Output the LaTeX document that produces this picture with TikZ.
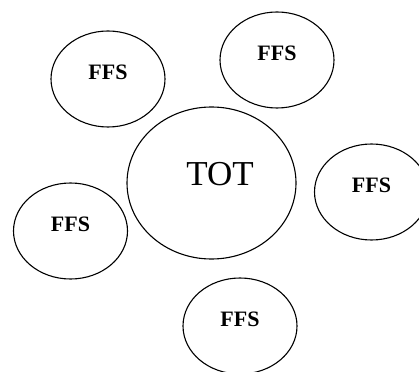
\documentclass[tikz,border=0pt]{standalone}
\usepackage{fontspec}
\setmainfont{Liberation Serif}
\usetikzlibrary{shapes.geometric}
\tikzset{
  blob/.style={ellipse, draw=black, line width=1.1pt, inner sep=0pt, minimum width=114pt, minimum height=96pt, font=\fontsize{22}{22}\selectfont\bfseries, text depth=13pt},
  bigblob/.style={ellipse, draw=black, line width=1.1pt, inner sep=0pt, minimum width=169pt, minimum height=152pt}
}

\begin{document}
\begin{tikzpicture}[x=1pt, y=-1pt]
\useasboundingbox (0,0) rectangle (419,371);
\node[bigblob, label={[font=\fontsize{35}{35}\selectfont, xshift=8.5pt, yshift=9pt]center:TOT}] (tot) at (211.5,183) {};
\node[blob] (ffsa) at (108,79) {FFS};
\node[blob] (ffsb) at (277,60) {FFS};
\node[blob] (ffsc) at (371.5,192) {FFS};
\node[blob] (ffsd) at (70.5,231) {FFS};
\node[blob] (ffse) at (240,326) {FFS};
\end{tikzpicture}
\end{document}
